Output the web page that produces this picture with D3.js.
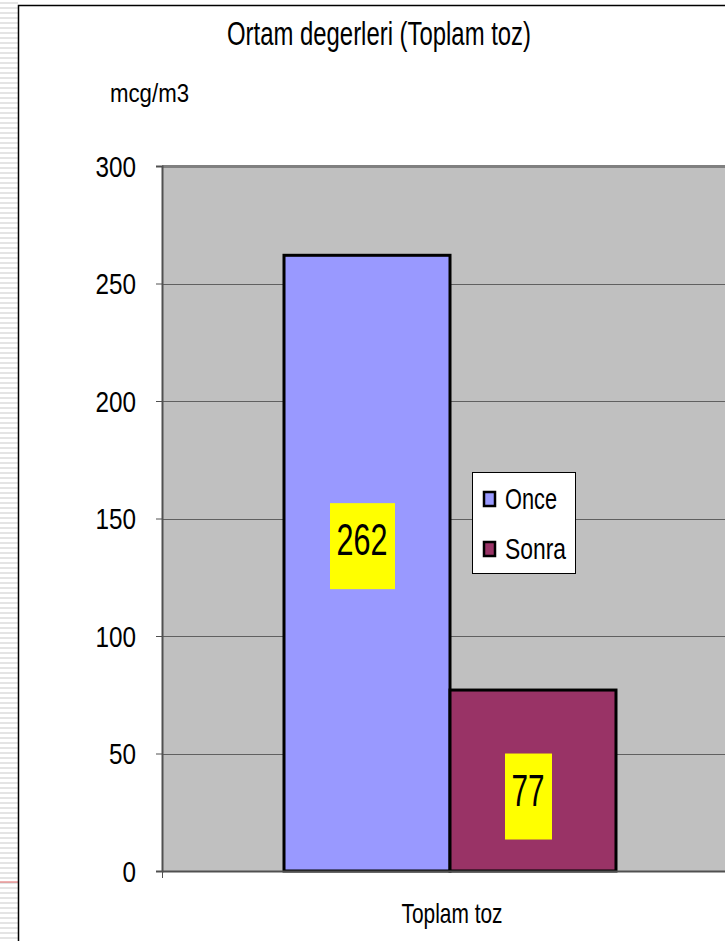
<!DOCTYPE html>
<html>
<head>
<meta charset="utf-8">
<script src="https://cdn.jsdelivr.net/npm/d3@7"></script>
<style>
  body { margin: 0; background: #fff; }
  svg text { font-family: "Liberation Sans Narrow", "Liberation Sans", Arial, sans-serif; fill: #000; }
</style>
</head>
<body>
<div id="grafico"></div>
<script>
// dados do grafico
const categorias = ["Toplam toz"];
const series = ["Once", "Sonra"];
const valores = [262, 77];
const cores = ["#9999ff", "#993366"];
const ticksY = [0, 50, 100, 150, 200, 250, 300];

const width = 725;
const height = 941;

const svg = d3.select("#grafico")
    .append("svg")
    .attr("width", width)
    .attr("height", height);

// faixas da esquerda (fundo do slide)
const faixas = svg.append("g");
for (let y = 0; y < height; y += 5) {
    faixas.append("rect")
        .attr("x", 0).attr("y", y + 2)
        .attr("width", 18).attr("height", 2)
        .attr("fill", "#e4e4e4");
}
faixas.append("line")
    .attr("x1", 0).attr("x2", 18)
    .attr("y1", 882).attr("y2", 882)
    .attr("stroke", "#e06060").attr("stroke-width", 1);

// moldura do grafico
svg.append("rect")
    .attr("x", 18.5).attr("y", 5.5)
    .attr("width", 800).attr("height", 1000)
    .attr("fill", "#fff")
    .attr("stroke", "#000")
    .attr("stroke-width", 1.5);

// area do grafico
const plot = { left: 162, right: 738, top: 166, bottom: 871 };

const yScale = d3.scaleLinear()
    .domain([0, 300])
    .range([plot.bottom, plot.top]);

const xScale = d3.scaleBand()
    .domain(categorias)
    .range([plot.left, plot.right])
    .paddingInner(0)
    .paddingOuter(0.3675);

const xSerie = d3.scaleBand()
    .domain(series)
    .range([0, xScale.bandwidth()]);

svg.append("rect")
    .attr("x", plot.left).attr("y", plot.top)
    .attr("width", plot.right - plot.left)
    .attr("height", plot.bottom - plot.top)
    .attr("fill", "#c0c0c0");

// linhas de grade
svg.append("g")
    .selectAll("line")
    .data(ticksY.filter(d => d > 0 && d < 300))
    .enter().append("line")
    .attr("x1", plot.left).attr("x2", plot.right)
    .attr("y1", d => Math.round(yScale(d)) + 0.5)
    .attr("y2", d => Math.round(yScale(d)) + 0.5)
    .attr("stroke", "#606060")
    .attr("stroke-width", 1);

// borda superior da area
svg.append("rect")
    .attr("x", plot.left).attr("y", plot.top - 1)
    .attr("width", plot.right - plot.left).attr("height", 3)
    .attr("fill", "#808080");

// barras
svg.selectAll(".barra")
    .data(valores)
    .enter().append("rect")
    .attr("class", "barra")
    .attr("x", (d, i) => xScale(categorias[0]) + xSerie(series[i]))
    .attr("y", d => yScale(d))
    .attr("width", xSerie.bandwidth())
    .attr("height", d => plot.bottom - yScale(d))
    .attr("fill", (d, i) => cores[i])
    .attr("stroke", "#000")
    .attr("stroke-width", 3);

// eixo x
svg.append("line")
    .attr("x1", plot.left).attr("x2", plot.right)
    .attr("y1", plot.bottom + 0.5).attr("y2", plot.bottom + 0.5)
    .attr("stroke", "#505050").attr("stroke-width", 2);

// eixo y
const eixoY = svg.append("g")
    .attr("transform", `translate(${plot.left},0)`)
    .call(d3.axisLeft(yScale).tickValues(ticksY).tickSize(6).tickPadding(20));
eixoY.attr("font-family", null);
eixoY.select(".domain").attr("stroke", "#505050").attr("stroke-width", 2);
eixoY.selectAll(".tick line").attr("stroke", "#505050");
eixoY.selectAll(".tick text")
    .attr("font-size", 29)
    .attr("dy", "0.36em")
    .attr("textLength", d => String(d).length * 13.5)
    .attr("lengthAdjust", "spacingAndGlyphs");
// pequeno traco abaixo do zero
svg.append("line")
    .attr("x1", plot.left + 0.5).attr("x2", plot.left + 0.5)
    .attr("y1", plot.bottom).attr("y2", plot.bottom + 7)
    .attr("stroke", "#505050");

// rotulos de valor (fundo amarelo)
const deslocamento = [-17, 16];
const rotulos = svg.selectAll(".rotulo")
    .data(valores)
    .enter().append("g")
    .attr("class", "rotulo")
    .attr("transform", (d, i) => {
        const cx = xScale(categorias[0]) + xSerie(series[i]) + xSerie.bandwidth() / 2 - 5;
        const cy = (yScale(d) + plot.bottom) / 2 + deslocamento[i];
        return `translate(${cx},${cy})`;
    });
rotulos.append("rect")
    .attr("x", d => d >= 100 ? -32 : -23)
    .attr("y", -43)
    .attr("width", d => d >= 100 ? 65 : 47)
    .attr("height", 86)
    .attr("fill", "#ffff00");
rotulos.append("text")
    .attr("text-anchor", "middle")
    .attr("y", 9)
    .attr("font-size", 45)
    .attr("textLength", d => d >= 100 ? 51 : 33)
    .attr("lengthAdjust", "spacingAndGlyphs")
    .text(d => d);

// titulo
svg.append("text")
    .attr("x", 379).attr("y", 45)
    .attr("text-anchor", "middle")
    .attr("font-size", 34)
    .attr("textLength", 304)
    .attr("lengthAdjust", "spacingAndGlyphs")
    .text("Ortam degerleri (Toplam toz)");

svg.append("text")
    .attr("x", 110).attr("y", 102)
    .attr("font-size", 25)
    .attr("textLength", 79)
    .attr("lengthAdjust", "spacingAndGlyphs")
    .text("mcg/m3");

// rotulo da categoria
svg.append("text")
    .attr("x", xScale(categorias[0]) + xScale.bandwidth() / 2 + 2)
    .attr("y", 923)
    .attr("text-anchor", "middle")
    .attr("font-size", 28)
    .attr("textLength", 101)
    .attr("lengthAdjust", "spacingAndGlyphs")
    .text(categorias[0]);

// legenda
const legendaLargura = [52, 61];
const legenda = svg.append("g").attr("transform", "translate(472,472)");
legenda.append("rect")
    .attr("x", 0.5).attr("y", 0.5)
    .attr("width", 103).attr("height", 101)
    .attr("fill", "#fff")
    .attr("stroke", "#000");
series.forEach((s, i) => {
    const y = 27 + i * 50;
    legenda.append("rect")
        .attr("x", 12).attr("y", y - 7)
        .attr("width", 11).attr("height", 14)
        .attr("fill", cores[i])
        .attr("stroke", "#000")
        .attr("stroke-width", 2.5);
    legenda.append("text")
        .attr("x", 33).attr("y", y + 10)
        .attr("font-size", 29)
        .attr("textLength", legendaLargura[i])
        .attr("lengthAdjust", "spacingAndGlyphs")
        .text(s);
});
</script>
</body>
</html>
